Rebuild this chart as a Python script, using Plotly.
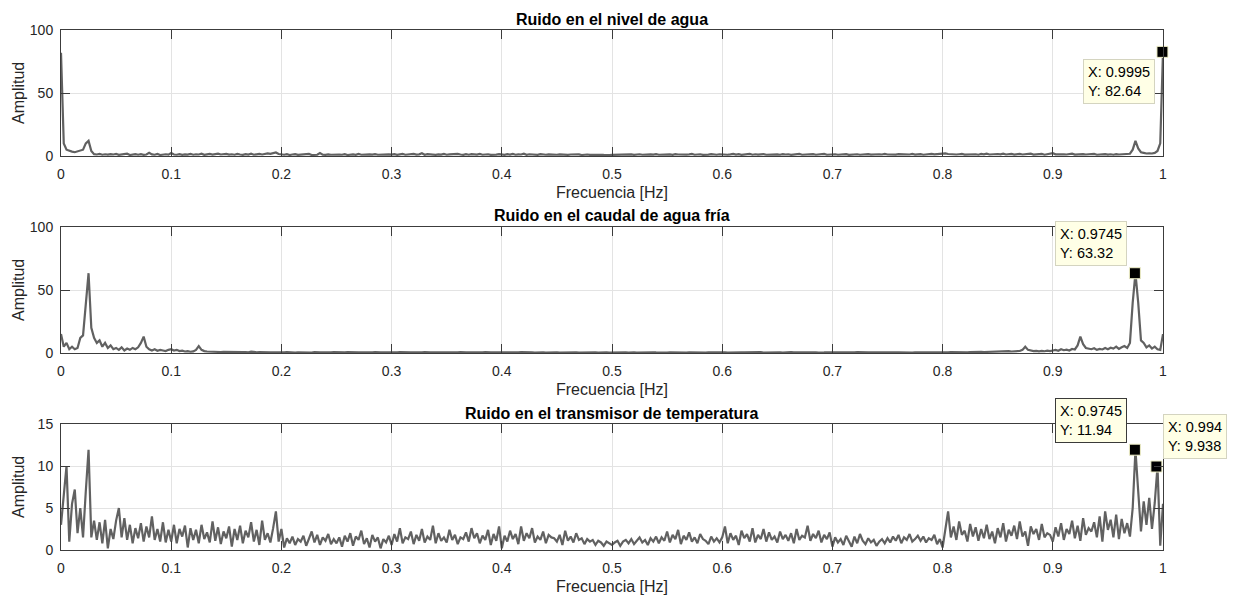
import plotly.graph_objects as go

# ---------------- data (amplitude spectra, step 0.0025 Hz) ----------------
STEP = 0.0025

nivel = [
    82, 10, 5, 4, 3.5, 3, 3.5, 4, 5, 10, 12, 4, 1.5, 1.2, 1.6, 1.0, 1.4, 1.1, 1.5, 1.2,
    1.6, 0.9, 1.3, 1.1, 1.8, 0.8, 1.2, 1.5, 1.0, 1.4, 0.9, 1.2, 2.5, 1.3, 1.0, 1.6, 0.8, 1.2, 1.4, 1.1,
    2.4, 1.2, 1.0, 1.5, 0.9, 1.3, 1.1, 1.7, 1.0, 1.4, 1.2, 1.8, 0.9, 1.3, 1.6, 1.1, 1.5, 1.9, 1.2, 1.4,
    1.7, 1.1, 1.4, 1.0, 1.6, 1.2, 0.9, 1.5, 1.1, 1.8, 1.0, 1.3, 1.6, 1.2, 1.5, 2.0, 1.7, 2.4, 2.8, 1.6,
    1.3, 1.0, 1.4, 0.8, 1.2, 1.5, 0.9, 1.1, 1.3, 1.0, 1.6, 0.8, 1.2, 1.0, 2.3, 1.1, 0.9, 1.3, 1.0, 1.2,
    0.9, 1.2, 1.0, 1.4, 0.8, 1.1, 1.3, 0.9, 1.6, 1.0, 1.2, 0.8, 1.3, 1.1, 1.5, 1.0, 1.2, 1.4, 1.0, 1.3,
    1.1, 1.5, 0.9, 1.3, 1.6, 1.0, 1.4, 1.2, 1.7, 1.1, 1.3, 2.2, 1.0, 1.5, 1.2, 1.4, 0.9, 1.3, 1.1, 1.6,
    1.0, 1.3, 1.5, 1.1, 1.7, 1.2, 0.9, 1.4, 1.0, 1.5, 1.3, 1.1, 1.6, 1.0, 1.2, 1.4, 0.9, 1.3, 1.1, 1.5,
    1.2, 0.9, 1.4, 1.1, 1.6, 1.0, 1.3, 1.2, 1.8, 1.0, 1.4, 1.1, 1.3, 0.9, 1.5, 1.2, 1.0, 1.3, 1.1, 1.4,
    1.0, 1.3, 1.1, 1.5, 0.9, 1.2, 1.4, 1.0, 1.3, 0.8, 1.1, 1.2, 0.9, 1.0, 1.2, 0.8, 1.0, 0.9, 1.1, 0.8,
    0.9, 1.0, 0.8, 1.1, 0.9, 1.2, 1.0, 1.3, 0.9, 1.1, 1.4, 1.0, 1.2, 0.9, 1.3, 1.1, 1.5, 1.0, 1.2, 1.4,
    1.1, 1.3, 0.9, 1.5, 1.2, 1.0, 1.4, 1.1, 1.3, 1.6, 1.0, 1.2, 1.4, 0.9, 1.3, 1.1, 1.5, 1.2, 1.0, 1.4,
    1.2, 1.5, 1.0, 1.3, 1.7, 1.1, 1.4, 0.9, 1.3, 1.2, 1.6, 1.0, 1.4, 1.1, 1.3, 1.5, 1.0, 1.2, 1.4, 1.1,
    1.3, 1.0, 1.5, 1.2, 1.4, 0.9, 1.3, 1.1, 1.6, 1.0, 1.2, 1.4, 1.1, 1.5, 1.0, 1.3, 1.2, 1.7, 1.0, 1.3,
    1.1, 1.4, 1.0, 1.3, 1.2, 1.5, 0.9, 1.2, 1.1, 1.4, 1.0, 1.3, 1.2, 1.5, 1.1, 1.3, 1.0, 1.4, 1.2, 1.6,
    1.2, 1.0, 1.4, 1.1, 1.5, 1.3, 1.0, 1.4, 1.2, 1.6, 1.1, 1.3, 1.5, 1.0, 1.4, 1.2, 1.7, 1.3, 1.5, 1.8,
    2.4, 2.0, 1.6, 1.3, 1.5, 1.2, 1.4, 1.6, 1.1, 1.3, 1.5, 1.2, 1.4, 1.0, 1.6, 1.3, 1.8, 1.2, 1.5, 1.3,
    1.6, 1.3, 1.9, 1.2, 1.5, 1.7, 1.1, 1.4, 1.6, 1.2, 1.5, 1.3, 1.8, 1.1, 1.4, 1.2, 1.6, 1.0, 1.3, 1.7,
    2.2, 1.3, 1.5, 1.1, 1.4, 1.2, 1.6, 1.9, 1.1, 1.3, 1.0, 1.5, 1.2, 1.4, 1.1, 1.6, 1.0, 1.3, 1.2, 1.5,
    1.1, 1.4, 1.0, 1.5, 1.2, 1.3, 1.6, 1.2, 1.8, 5.0, 12.0, 6.0, 3.0, 2.5, 2.0, 2.2, 2.0, 2.5, 4.0, 10.0,
    82.64,
]

caudal = [
    15, 5, 8, 3, 5, 3, 4, 12, 14, 40, 63.32, 20, 12, 8, 10, 5, 8, 4, 6, 3,
    4, 2.5, 4.5, 2, 3.5, 2.5, 4, 3, 4.5, 8, 13, 5, 3, 2, 3, 1.8, 2.5, 2, 1.5, 2.5,
    3, 2, 2.5, 1.5, 1.8, 1.2, 1.5, 1.0, 1.3, 2.5, 5.5, 2.5, 1.5, 1.2, 1.0, 1.2, 0.9, 1.0, 0.8, 1.0,
    0.9, 0.8, 1.0, 0.7, 0.8, 0.9, 0.7, 0.8, 0.6, 1.1, 0.7, 0.6, 0.7, 0.5, 0.6, 0.7, 0.5, 0.6, 0.5, 0.6,
    0.6, 0.5, 0.7, 0.5, 0.6, 0.4, 0.6, 0.5, 0.7, 0.5, 0.6, 0.4, 0.8, 0.5, 0.6, 0.5, 0.4, 0.6, 0.5, 0.7,
    0.5, 0.6, 0.4, 0.5, 0.7, 0.5, 0.6, 0.4, 0.5, 0.6, 0.5, 0.4, 0.6, 0.5, 0.7, 0.4, 0.5, 0.6, 0.4, 0.5,
    0.6, 0.4, 0.5, 0.7, 0.5, 0.4, 0.6, 0.5, 0.5, 0.4, 0.6, 0.5, 0.7, 0.4, 0.5, 0.6, 0.5, 0.4, 0.5, 0.6,
    0.5, 0.6, 0.4, 0.6, 0.5, 0.7, 0.4, 0.5, 0.6, 0.5, 0.4, 0.6, 0.5, 0.5, 0.7, 0.4, 0.6, 0.5, 0.4, 0.6,
    0.4, 0.5, 0.6, 0.5, 0.4, 0.6, 0.5, 0.7, 0.5, 0.4, 0.6, 0.5, 0.4, 0.6, 0.5, 0.6, 0.4, 0.5, 0.7, 0.5,
    0.6, 0.4, 0.5, 0.5, 0.6, 0.4, 0.5, 0.6, 0.4, 0.5, 0.4, 0.6, 0.5, 0.4, 0.5, 0.4, 0.6, 0.4, 0.5, 0.4,
    0.5, 0.4, 0.5, 0.6, 0.4, 0.5, 0.4, 0.6, 0.5, 0.4, 0.5, 0.6, 0.4, 0.5, 0.4, 0.6, 0.5, 0.4, 0.6, 0.5,
    0.4, 0.6, 0.5, 0.4, 0.6, 0.5, 0.5, 0.4, 0.6, 0.5, 0.7, 0.4, 0.5, 0.6, 0.4, 0.5, 0.6, 0.5, 0.4, 0.6,
    0.5, 0.6, 0.4, 0.5, 0.7, 0.5, 0.4, 0.6, 0.5, 0.6, 0.4, 0.5, 0.6, 0.5, 0.7, 0.4, 0.5, 0.6, 0.5, 0.4,
    0.6, 0.5, 0.4, 0.6, 0.5, 0.7, 0.5, 0.4, 0.6, 0.5, 0.5, 0.6, 0.4, 0.6, 0.5, 0.4, 0.7, 0.5, 0.6, 0.5,
    0.5, 0.6, 0.4, 0.5, 0.6, 0.5, 0.4, 0.6, 0.5, 0.7, 0.5, 0.4, 0.6, 0.5, 0.6, 0.4, 0.5, 0.6, 0.5, 0.6,
    0.5, 0.4, 0.6, 0.5, 0.6, 0.5, 0.7, 0.5, 0.6, 0.4, 0.6, 0.5, 0.6, 0.5, 0.7, 0.5, 0.6, 0.5, 0.6, 0.5,
    0.5, 0.6, 0.5, 0.7, 0.6, 0.5, 0.7, 0.6, 0.8, 0.6, 0.7, 0.9, 0.7, 0.8, 1.0, 0.8, 0.9, 1.1, 0.9, 1.0,
    1.2, 1.0, 1.3, 1.1, 1.5, 1.2, 1.4, 1.3, 1.6, 2.5, 5.0, 2.5, 1.8, 1.5, 1.7, 1.3, 1.6, 1.4, 1.8, 1.5,
    2.0, 2.5, 1.8, 3.0, 2.2, 2.6, 2.0, 3.2, 2.8, 6.0, 13.0, 7.0, 4.0, 3.5, 3.0, 3.8, 2.5, 3.2, 2.8, 4.0,
    3.0, 4.2, 3.5, 5.0, 3.2, 4.5, 5.5, 4.0, 8.0, 40.0, 63.32, 40.0, 10.0, 8.0, 4.5, 6.0, 3.5, 5.0, 3.0, 2.5,
    15.0,
]

temperatura = [
    3.0, 6.3, 10.0, 1.0, 5.5, 7.2, 2.0, 5.0, 1.5, 7.0, 11.94, 1.5, 3.5, 1.2, 3.3, 0.8, 3.6, 0.2, 2.5, 1.3,
    3.5, 5.0, 1.5, 3.8, 1.2, 3.0, 0.8, 2.6, 1.4, 3.2, 1.0, 2.8, 1.5, 4.0, 1.2, 2.5, 1.0, 3.3, 0.9, 2.4,
    1.0, 3.0, 0.8, 2.5, 1.6, 2.9, 0.3, 2.6, 1.2, 2.4, 0.8, 3.0, 1.3, 2.1, 0.9, 3.4, 1.1, 2.7, 0.7, 2.2,
    1.4, 2.8, 0.4, 2.5, 1.2, 2.9, 0.8, 2.3, 1.5, 3.3, 1.0, 2.4, 0.6, 3.5, 1.2, 2.0, 0.9, 2.6, 4.6, 1.0,
    2.5, 0.3, 1.4, 0.8, 1.6, 0.6, 1.3, 1.0, 1.7, 0.5, 1.4, 2.2, 0.9, 1.8, 0.6, 1.5, 1.1, 1.9, 0.7, 1.3,
    0.8, 1.5, 0.4, 1.7, 1.0, 2.0, 0.5, 1.6, 1.2, 2.3, 0.7, 1.4, 0.3, 1.8, 1.0, 1.5, 0.2, 1.3, 0.9, 1.7,
    0.6, 1.9, 1.0, 2.6, 0.8, 1.5, 1.3, 2.2, 0.7, 1.8, 1.1, 2.5, 0.9, 1.6, 1.2, 2.9, 0.8, 2.0, 1.1, 1.5,
    0.9, 2.4, 1.2, 1.8, 0.7, 1.5, 1.3, 2.1, 1.0, 2.6, 1.4, 2.0, 0.8, 1.7, 1.2, 2.4, 0.6, 1.9, 1.1, 2.8,
    0.2, 1.7, 1.0, 2.3, 1.3, 1.9, 0.7, 2.8, 1.1, 2.0, 1.4, 2.6, 0.9, 1.6, 1.2, 2.2, 0.8, 1.8, 1.5, 1.4,
    1.0, 1.8, 0.6, 2.3, 1.1, 1.6, 0.9, 2.0, 1.2, 1.4, 0.7, 1.3, 1.0, 1.2, 0.6, 1.1, 0.9, 0.5, 1.0, 0.8,
    0.6, 0.9, 1.1, 0.5, 1.0, 1.2, 0.8, 1.3, 0.7, 1.1, 1.5, 0.9, 1.2, 0.6, 1.4, 1.0, 1.6, 0.8, 1.5, 1.1,
    2.2, 0.9, 1.8, 1.3, 2.4, 0.7, 1.7, 1.2, 2.1, 1.0, 1.5, 0.8, 1.9, 1.3, 1.1, 0.7, 1.6, 1.0, 1.4, 0.9,
    1.5, 2.8, 0.8, 2.0, 1.2, 1.7, 0.6, 2.3, 1.4, 1.9, 1.0, 2.6, 0.9, 1.8, 1.3, 2.5, 1.0, 2.1, 1.2, 1.6,
    0.9, 2.2, 1.3, 1.8, 1.1, 2.0, 0.8, 2.5, 1.2, 1.7, 1.5, 2.9, 1.1, 1.9, 1.4, 2.3, 0.9, 1.8, 1.3, 2.1,
    0.4, 1.5, 0.9, 1.3, 0.6, 1.7, 1.0, 0.4, 1.6, 0.8, 1.9, 1.1, 0.7, 1.4, 0.9, 1.2, 0.5, 1.0, 1.3, 0.8,
    1.4, 0.9, 1.6, 1.1, 1.8, 0.8, 1.5, 1.2, 1.9, 1.0, 1.3, 1.7, 1.1, 1.6, 0.9, 1.4, 1.2, 1.8, 0.7, 1.3,
    0.3, 2.4, 4.6, 1.5, 2.8, 1.2, 3.4, 1.8, 2.3, 1.0, 3.1, 1.6, 2.7, 1.1, 2.5, 1.4, 3.0, 1.3, 2.2, 0.8,
    2.6, 1.5, 3.2, 1.0, 2.4, 1.7, 2.9, 1.3, 3.4, 1.6, 2.2, 0.5, 2.8, 1.9, 2.5, 1.2, 3.1, 1.5, 2.0, 1.8,
    1.0, 2.7, 1.6, 3.2, 1.2, 2.5, 1.9, 3.5, 1.4, 2.9, 1.1, 3.8, 1.8, 2.6, 2.2, 3.3, 1.5, 4.0, 1.0, 4.6,
    2.4, 3.6, 1.5, 4.2, 1.3, 3.7, 2.0, 3.2, 1.6, 5.0, 11.94, 7.0, 2.2, 5.8, 3.0, 6.2, 2.5, 5.6, 9.94, 0.5,
    5.5,
]

titles = ["Ruido en el nivel de agua",
          "Ruido en el caudal de agua fría",
          "Ruido en el transmisor de temperatura"]
y_max = [100, 100, 15]
y_ticks = [[0, 50, 100], [0, 50, 100], [0, 5, 10, 15]]
x_ticks = [0, 0.1, 0.2, 0.3, 0.4, 0.5, 0.6, 0.7, 0.8, 0.9, 1]
x_tick_text = ["0", "0.1", "0.2", "0.3", "0.4", "0.5", "0.6", "0.7", "0.8", "0.9", "1"]

# data tips
tip_panel = [1, 2, 3, 3]
tip_x = [0.9995, 0.9745, 0.9745, 0.994]
tip_y = [82.64, 63.32, 11.94, 9.938]
tip_label_x = ["0.9995", "0.9745", "0.9745", "0.994"]
tip_label_y = ["82.64", "63.32", "11.94", "9.938"]

# ---------------- layout geometry ----------------
W, H = 1234, 599
ML, MR, MT, MB = 61, 71, 30, 49
PH = H - MT - MB
panel_px = [(30, 156), (227, 353), (424, 550)]   # (top, bottom) in pixels


def py(p):
    return (H - MB - p) / PH


FONT = "Liberation Sans, Arial, sans-serif"
TXT = "#262626"
LINE = "#616161"
AX = "#3c3c3c"

fig = go.Figure()
values = [nivel, caudal, temperatura]
for i, v in enumerate(values):
    n = i + 1
    fr = [round(k * STEP, 4) for k in range(len(v))]
    fig.add_trace(go.Scatter(
        x=fr, y=v, mode="lines", line=dict(color=LINE, width=2.2),
        xaxis="x" if n == 1 else f"x{n}", yaxis="y" if n == 1 else f"y{n}",
        showlegend=False, hoverinfo="skip"))

for p, x, y in zip(tip_panel, tip_x, tip_y):
    fig.add_trace(go.Scatter(
        x=[x], y=[y], mode="markers",
        marker=dict(symbol="square", size=11, color="black",
                    line=dict(color="#f0f0c8", width=1)),
        xaxis="x" if p == 1 else f"x{p}", yaxis="y" if p == 1 else f"y{p}",
        showlegend=False, cliponaxis=False, hoverinfo="skip"))

annotations = []
for i in range(3):
    n = i + 1
    top, bot = panel_px[i]
    dom = [py(bot), py(top)]
    axx = dict(domain=[0, 1], range=[0, 1], anchor="y" if n == 1 else f"y{n}",
               tickvals=x_ticks, ticktext=x_tick_text,
               ticks="inside", ticklen=9, tickcolor=AX, tickwidth=1,
               showline=True, linecolor=AX, linewidth=1, mirror="ticks",
               showgrid=True, gridcolor="#e3e3e3", gridwidth=1, zeroline=False,
               ticklabelstandoff=5,
               tickfont=dict(family=FONT, size=14, color=TXT))
    axy = dict(domain=dom, range=[0, y_max[i]], anchor="x" if n == 1 else f"x{n}",
               tickvals=y_ticks[i], ticks="inside", ticklen=9, tickcolor=AX,
               tickwidth=1, showline=True, linecolor=AX, linewidth=1,
               mirror="ticks", showgrid=True, gridcolor="#e3e3e3", gridwidth=1,
               zeroline=False, ticklabelstandoff=4,
               tickfont=dict(family=FONT, size=14, color=TXT))
    fig.update_layout(**{("xaxis" if n == 1 else f"xaxis{n}"): axx,
                         ("yaxis" if n == 1 else f"yaxis{n}"): axy})
    annotations.append(dict(text=f"<b>{titles[i]}</b>", xref="paper", yref="paper",
                            x=0.5, y=py(top - 11), xanchor="center", yanchor="middle",
                            showarrow=False, font=dict(family=FONT, size=16, color="black")))
    annotations.append(dict(text="Frecuencia [Hz]", xref="paper", yref="paper",
                            x=0.5, y=py(bot + 36), xanchor="center", yanchor="middle",
                            showarrow=False, font=dict(family=FONT, size=16, color=TXT)))
    annotations.append(dict(text="Amplitud", xref="paper", yref="paper",
                            x=(18 - ML) / (W - ML - MR), y=py((top + bot) / 2),
                            xanchor="center", yanchor="middle", textangle=-90,
                            showarrow=False, font=dict(family=FONT, size=16, color=TXT)))

tip_style = [
    dict(xanchor="right", yanchor="top", xshift=-7, yshift=-7, border="#d4d4c0"),
    dict(xanchor="right", yanchor="bottom", xshift=-8, yshift=7, border="#d4d4c0"),
    dict(xanchor="right", yanchor="bottom", xshift=-8, yshift=7, border="#3a3a3a"),
    dict(xanchor="left", yanchor="bottom", xshift=7, yshift=8, border="#d4d4c0"),
]
for k, (p, x, y) in enumerate(zip(tip_panel, tip_x, tip_y)):
    s = tip_style[k]
    annotations.append(dict(
        text=f"X: {tip_label_x[k]}<br>Y: {tip_label_y[k]}",
        xref="x" if p == 1 else f"x{p}", yref="y" if p == 1 else f"y{p}",
        x=x, y=y, xanchor=s["xanchor"], yanchor=s["yanchor"],
        xshift=s["xshift"], yshift=s["yshift"], align="left", showarrow=False,
        bgcolor="#ffffe6", bordercolor=s["border"], borderwidth=1, borderpad=4,
        font=dict(family=FONT, size=14.5, color="black")))

fig.update_layout(
    width=W, height=H, margin=dict(l=ML, r=MR, t=MT, b=MB),
    paper_bgcolor="white", plot_bgcolor="white",
    annotations=annotations, showlegend=False)

fig.write_html("out.html")
